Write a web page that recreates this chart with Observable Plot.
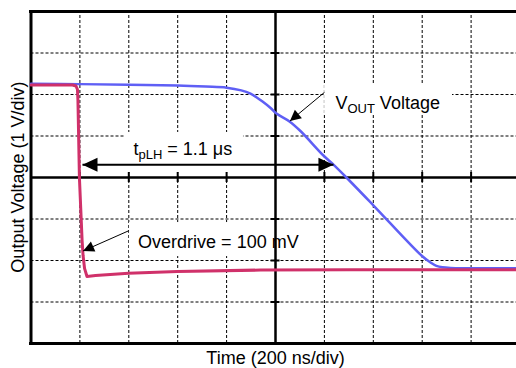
<!DOCTYPE html>
<html>
<head>
<meta charset="utf-8">
<script src="https://cdn.jsdelivr.net/npm/d3@7"></script>
<script src="https://cdn.jsdelivr.net/npm/@observablehq/plot@0.6"></script>
<style>
  body { margin: 0; background: #fff; }
  svg text tspan { white-space: pre; }
</style>
</head>
<body>
<div id="chart"></div>
<script>
// ---- Data (time in ns, voltage in V relative to screen centre) ----
const blueTime = [0, 200, 400, 600, 715, 800, 860, 898, 922, 947, 980, 1004, 1057, 1102, 1196, 1237, 1290, 1401, 1597, 1634, 1658, 1683, 1716, 2000];
const blueVolt = [2.26, 2.25, 2.235, 2.215, 2.19, 2.165, 2.1, 2.02, 1.935, 1.83, 1.675, 1.54, 1.35, 1.12, 0.53, 0.31, 0.0, -0.675, -1.88, -2.05, -2.13, -2.165, -2.18, -2.185];

const redTime = [0, 170, 184, 190, 192, 198, 209, 213, 219, 229, 264, 399, 599, 939, 1307, 2000];
const redVolt = [2.23, 2.23, 2.205, 2.12, 1.855, 0, -1.52, -1.88, -2.19, -2.385, -2.36, -2.305, -2.265, -2.23, -2.224, -2.224];

const xGridTicks = [200, 400, 600, 800, 1200, 1400, 1600, 1800];
const yGridTicks = [-3, -2, -1, 1, 2, 3];

const xTitle = "Time (200 ns/div)";
const yTitle = "Output Voltage (1 V/div)";

// annotations (data units)
const tplhArrow = {t1: 210.6, t2: 1237, v: 0.306};
const pointers = [
  {name: "vout", t1: 1200, v1: 2.05, t2: 1059, v2: 1.36},
  {name: "od", t1: 401, v1: -1.28, t2: 213, v2: -1.77}
];
const subLabels = [
  {t: 419, v: 0.67, main: "t", sub: "pLH", rest: " = 1.1 μs"},
  {t: 1245, v: 1.795, main: "V", sub: "OUT", rest: " Voltage"}
];
const plainLabels = [{t: 438, v: -1.554, text: "Overdrive = 100 mV"}];
const labelBoxes = [
  {t1: 386, t2: 869, v1: 0.12, v2: 1.085},
  {t1: 1201, t2: 1724, v1: 1.54, v2: 2.22},
  {t1: 403, t2: 1196, v1: -1.905, v2: -1.085}
];

// ---- Layout ----
const W = 516, H = 368;
const X_DOMAIN = [0, 2000], X_RANGE = [30.5, 519.5];
const Y_DOMAIN = [-4, 4], Y_RANGE = [343, 11];
const xs = d3.scaleLinear(X_DOMAIN, X_RANGE);
const ys = d3.scaleLinear(Y_DOMAIN, Y_RANGE);
const nsPerPx = (X_DOMAIN[1] - X_DOMAIN[0]) / (X_RANGE[1] - X_RANGE[0]);
const vPerPx = (Y_DOMAIN[1] - Y_DOMAIN[0]) / (Y_RANGE[0] - Y_RANGE[1]);

const blue = blueTime.map((t, i) => ({t, v: blueVolt[i]}));
const red = redTime.map((t, i) => ({t, v: redVolt[i]}));

const FONT = "'Liberation Sans', Arial, Helvetica, sans-serif";
const BLUE = "#5f5ff5";
const RED = "#d0316a";

function head(dx, dy, len, half) {
  const n = Math.hypot(dx, dy), ux = dx / n, uy = dy / n;
  return {
    draw(ctx) {
      ctx.moveTo(0, 0);
      ctx.lineTo(-ux * len - uy * half, -uy * len + ux * half);
      ctx.lineTo(-ux * len + uy * half, -uy * len - ux * half);
      ctx.closePath();
    }
  };
}

const headMarks = [];
headMarks.push(Plot.dot([tplhArrow], {x: "t1", y: "v", r: 5, symbol: head(-1, 0, 15, 7), fill: "black", stroke: "none"}));
headMarks.push(Plot.dot([tplhArrow], {x: "t2", y: "v", r: 5, symbol: head(1, 0, 15, 7), fill: "black", stroke: "none"}));
for (const p of pointers) {
  const dx = xs(p.t2) - xs(p.t1), dy = ys(p.v2) - ys(p.v1);
  headMarks.push(Plot.dot([p], {x: "t2", y: "v2", r: 5, symbol: head(dx, dy, 11, 5.5), fill: "black", stroke: "none"}));
}

const tickHalfV = 5 * vPerPx;
const tickHalfT = 4.5 * nsPerPx;

const chart = Plot.plot({
  width: W, height: H,
  marginTop: 0, marginRight: 0, marginBottom: 0, marginLeft: 0,
  x: {domain: X_DOMAIN, range: X_RANGE, axis: null},
  y: {domain: Y_DOMAIN, range: Y_RANGE, axis: null},
  style: {fontFamily: FONT, fontSize: "18px", background: "white", color: "black", overflow: "hidden"},
  marks: [
    // dotted grid
    Plot.ruleX(xGridTicks, {x: d => d, y1: Y_DOMAIN[0], y2: Y_DOMAIN[1], stroke: "black", strokeWidth: 1, strokeDasharray: "3,2"}),
    Plot.ruleY(yGridTicks, {y: d => d, x1: X_DOMAIN[0], x2: X_DOMAIN[1], stroke: "black", strokeWidth: 1, strokeDasharray: "3,2"}),
    // label backgrounds
    Plot.rect(labelBoxes, {x1: "t1", x2: "t2", y1: "v1", y2: "v2", fill: "white"}),
    // centre cross with ticks
    Plot.ruleY([0], {y: d => d, x1: X_DOMAIN[0], x2: X_DOMAIN[1], stroke: "black", strokeWidth: 2.5}),
    Plot.ruleX([1000], {x: d => d, y1: Y_DOMAIN[0], y2: Y_DOMAIN[1], stroke: "black", strokeWidth: 2.5}),
    Plot.ruleX(xGridTicks, {x: d => d, y1: -tickHalfV, y2: tickHalfV, stroke: "black", strokeWidth: 2}),
    Plot.ruleY(yGridTicks, {y: d => d, x1: 1000 - tickHalfT, x2: 1000 + tickHalfT, stroke: "black", strokeWidth: 2}),
    // frame (top, left, bottom)
    Plot.ruleY([Y_DOMAIN[1], Y_DOMAIN[0]], {y: d => d, x1: X_DOMAIN[0] - 1.5 * nsPerPx, x2: X_DOMAIN[1], stroke: "black", strokeWidth: 3}),
    Plot.ruleX([X_DOMAIN[0]], {x: d => d, y1: Y_DOMAIN[0], y2: Y_DOMAIN[1], stroke: "black", strokeWidth: 3}),
    // traces
    Plot.line(blue, {x: "t", y: "v", stroke: BLUE, strokeWidth: 2.5, curve: "catmull-rom"}),
    Plot.line(red, {x: "t", y: "v", stroke: RED, strokeWidth: 3}),
    // arrows
    Plot.link([tplhArrow], {x1: "t1", x2: "t2", y1: "v", y2: "v", stroke: "black", strokeWidth: 2}),
    Plot.link(pointers, {x1: "t1", y1: "v1", x2: "t2", y2: "v2", stroke: "black", strokeWidth: 1}),
    ...headMarks,
    // labels
    Plot.text(subLabels, {x: "t", y: "v", text: d => d.main + d.sub + d.rest, textAnchor: "start", lineAnchor: "middle", fontSize: 18, fill: "black"}),
    Plot.text(plainLabels, {x: "t", y: "v", text: "text", textAnchor: "start", lineAnchor: "middle", fontSize: 18, fill: "black"}),
    Plot.text([xTitle], {x: 1000, y: -4.366, text: d => d, textAnchor: "middle", lineAnchor: "middle", fontSize: 18, fill: "black"}),
    Plot.text([yTitle], {x: -53, y: 0.01, text: d => d, rotate: -90, textAnchor: "middle", lineAnchor: "middle", fontSize: 18, fill: "black"})
  ]
});

// subscripts: rebuild matching text elements with tspans
const ns = "http://www.w3.org/2000/svg";
for (const lab of subLabels) {
  const full = lab.main + lab.sub + lab.rest;
  for (const el of chart.querySelectorAll("text")) {
    if (el.textContent === full) {
      el.textContent = "";
      const a = document.createElementNS(ns, "tspan");
      a.textContent = lab.main;
      const b = document.createElementNS(ns, "tspan");
      b.textContent = lab.sub;
      b.setAttribute("font-size", "13");
      b.setAttribute("dy", "4");
      const c = document.createElementNS(ns, "tspan");
      c.textContent = lab.rest;
      c.setAttribute("dy", "-4");
      el.append(a, b, c);
    }
  }
}

document.getElementById("chart").appendChild(chart);
</script>
</body>
</html>
